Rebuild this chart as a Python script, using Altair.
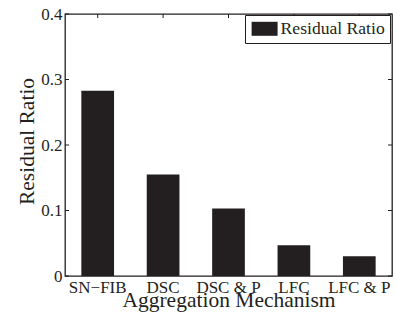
import altair as alt
import pandas as pd

categories = ["SN−FIB", "DSC", "DSC & P", "LFC", "LFC & P"]
residual_ratio = [0.283, 0.155, 0.103, 0.047, 0.030]
y_ticks = [0, 0.1, 0.2, 0.3, 0.4]
series_name = "Residual Ratio"

bars_df = pd.DataFrame({"mechanism": categories, "value": residual_ratio, "series": series_name})
yt_df = pd.DataFrame({"value": y_ticks})
xt_df = pd.DataFrame({"mechanism": categories})

W, H = 327, 262
FONT = "Liberation Serif"
INK = "#231f20"

x_scale = alt.Scale(paddingInner=0.5, paddingOuter=0.25)
y_scale = alt.Scale(domain=[0, 0.4], nice=False)
x_axis = alt.Axis(title="Aggregation Mechanism", labelAngle=0, ticks=False,
                  domain=False, labelPadding=3, titleY=30, titleBaseline="alphabetic")
y_axis = alt.Axis(title="Residual Ratio", values=y_ticks, format="~g",
                  ticks=False, domain=False, grid=False, labelPadding=3,
                  titleX=-32, titleY=127, titleBaseline="alphabetic")

bars = alt.Chart(bars_df).mark_bar(stroke=None).encode(
    x=alt.X("mechanism:N", sort=categories, scale=x_scale, axis=x_axis),
    y=alt.Y("value:Q", scale=y_scale, axis=y_axis),
    color=alt.Color("series:N", scale=alt.Scale(range=[INK]),
                    legend=alt.Legend(title=None, orient="none", legendX=180, legendY=1,
                                      symbolType="M-0.9,-0.875L2.35,-0.875L2.35,0.875L-0.9,0.875Z",
                                      symbolSize=256, symbolStrokeWidth=0,
                                      labelFont=FONT, labelFontSize=17.6, labelColor=INK,
                                      labelOffset=13, padding=5, strokeColor=INK,
                                      fillColor="white")),
)

left_ticks = alt.Chart(yt_df).mark_rule(color=INK, strokeWidth=1).encode(
    y=alt.Y("value:Q", scale=y_scale, axis=y_axis), x=alt.value(0), x2=alt.value(4))
right_ticks = alt.Chart(yt_df).mark_rule(color=INK, strokeWidth=1).encode(
    y=alt.Y("value:Q", scale=y_scale, axis=y_axis), x=alt.value(W), x2=alt.value(W - 4))
top_ticks = alt.Chart(xt_df).mark_rule(color=INK, strokeWidth=1).encode(
    x=alt.X("mechanism:N", sort=categories, scale=x_scale, axis=x_axis),
    y=alt.value(0), y2=alt.value(4))

chart = alt.layer(bars, left_ticks, right_ticks, top_ticks).properties(
    width=W, height=H,
    autosize=alt.AutoSizeParams(type="none"),
    padding={"left": 65, "top": 14, "right": 5, "bottom": 45},
).configure_view(stroke=INK, strokeWidth=1.3).configure_axis(
    labelFont=FONT, labelFontSize=17, labelColor=INK,
    titleFont=FONT, titleFontSize=21.5, titleColor=INK, titleFontWeight="normal",
)

chart.save("out.html", embed_options={"renderer": "svg", "actions": False})
